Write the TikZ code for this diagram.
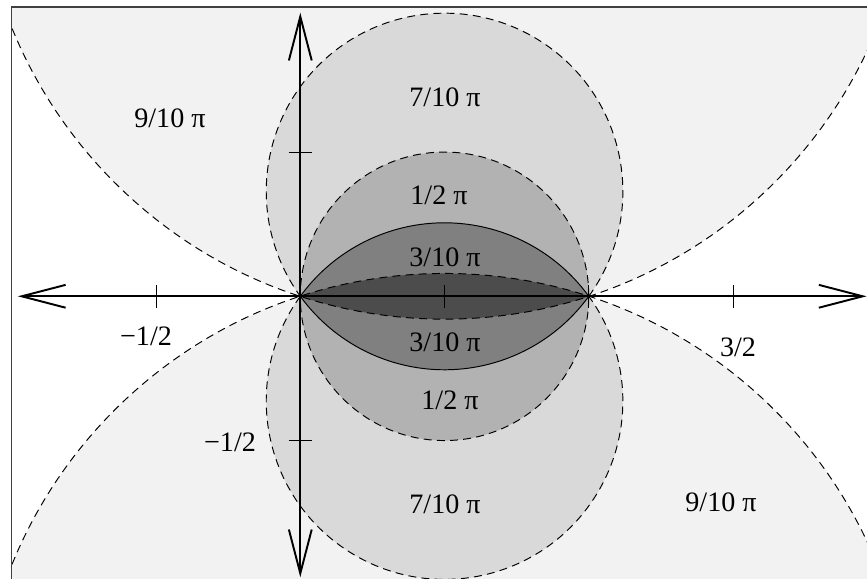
\documentclass[tikz,border=0pt]{standalone}
\usepackage{fontspec}
\setmainfont{Liberation Serif}
\usetikzlibrary{arrows.meta}
\definecolor{rA}{gray}{0.95}
\definecolor{rB}{gray}{0.85}
\definecolor{rC}{gray}{0.70}
\definecolor{rD}{gray}{0.50}
\definecolor{rE}{gray}{0.30}
\begin{document}
\begin{tikzpicture}[x=5.77cm,y=5.77cm,
  lbl/.style={font=\fontsize{16}{19}\selectfont, inner sep=0pt},
  bnd/.style={line width=0.55pt, dash pattern=on 4.5pt off 3pt},
  sol/.style={line width=0.55pt},
  axisline/.style={line width=1.1pt, {Straight Barb[length=25pt,width=13pt]}-{Straight Barb[length=25pt,width=13pt]}},
  tck/.style={line width=0.6pt},
  frm/.style={line width=0.8pt, draw=black!75}]
\useasboundingbox (-1.0409,-0.9799) rectangle (1.9643,1.0270);
\begin{scope}
  \clip (-1,-1.1) rectangle (2.1,1.0028);
  % 9/10 pi region
  \fill[rA] (0.5,1.538842) circle (1.618034);
  \fill[rA] (0.5,-1.538842) circle (1.618034);
  % 7/10 pi region
  \fill[rB] (0.5,0.363271) circle (0.618034);
  \fill[rB] (0.5,-0.363271) circle (0.618034);
  % 1/2 pi region
  \fill[rC] (0.5,0) circle (0.5);
  % 3/10 pi lens
  \begin{scope}
    \clip (0.5,0.363271) circle (0.618034);
    \fill[rD] (0.5,-0.363271) circle (0.618034);
  \end{scope}
  % 1/10 pi lens
  \begin{scope}
    \clip (0.5,1.538842) circle (1.618034);
    \fill[rE] (0.5,-1.538842) circle (1.618034);
  \end{scope}
  % boundaries
  \draw[bnd] (0.5,1.538842) circle (1.618034);
  \draw[bnd] (0.5,-1.538842) circle (1.618034);
  \draw[bnd] (1,0) arc[start angle=-36, end angle=216, radius=0.618034];
  \draw[bnd] (0,0) arc[start angle=144, end angle=396, radius=0.618034];
  \draw[sol] (0,0) arc[start angle=216, end angle=324, radius=0.618034];
  \draw[sol] (1,0) arc[start angle=36, end angle=144, radius=0.618034];
  \draw[bnd] (0.5,0) circle (0.5);
\end{scope}
% frame
\draw[frm] (-1,-1.05) rectangle (2.05,1.0028);
% axes
\coordinate (xl) at (-0.979,0);
\coordinate (xr) at (1.963,0);
\coordinate (yb) at (0,-0.974);
\coordinate (yt) at (0,0.983);
\draw[axisline] (xl) -- (xr);
\draw[axisline] (yb) -- (yt);
\foreach \x in {-0.5,0.5,1,1.5} \draw[tck] (\x,-0.04) -- (\x,0.04);
\foreach \y in {-0.5,0.5} \draw[tck] (-0.04,\y) -- (0.04,\y);
% labels
\node[lbl] (ltl) at (-0.4517,0.618) {9/10 π};
\node[lbl] (lt7) at (0.5016,0.6908) {7/10 π};
\node[lbl] (lt5) at (0.4808,0.3511) {1/2 π};
\node[lbl] (lt3) at (0.5016,0.1362) {3/10 π};
\node[lbl] (lb3) at (0.5016,-0.1584) {3/10 π};
\node[lbl] (lb5) at (0.5189,-0.3594) {1/2 π};
\node[lbl] (lb7) at (0.5016,-0.7199) {7/10 π};
\node[lbl] (lbr) at (1.4582,-0.7130) {9/10 π};
\node[lbl] (xm) at (-0.5349,-0.1376) {−1/2};
\node[lbl] (x32) at (1.5172,-0.1757) {3/2};
\node[lbl] (ym) at (-0.2437,-0.5050) {−1/2};
\end{tikzpicture}
\end{document}
